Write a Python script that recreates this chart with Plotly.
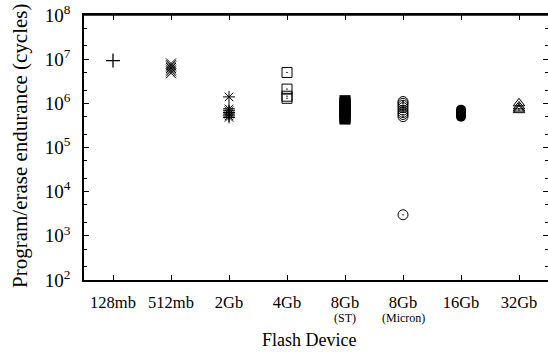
import plotly.graph_objects as go

categories = ["128mb", "512mb", "2Gb", "4Gb", "8Gb", "8Gb", "16Gb", "32Gb"]
sub_labels = ["", "", "", "", "(ST)", "(Micron)", "", ""]
cat_pos = [1, 2, 3, 4, 5, 6, 7, 8]

v_128mb = [9.3e6]
v_512mb = [8.0e6, 7.3e6, 6.8e6, 6.3e6, 5.8e6, 5.3e6, 4.8e6]
v_2gb = [1.4e6, 7.5e5, 6.8e5, 6.2e5, 5.7e5, 5.2e5, 4.8e5]
v_4gb = [5.0e6, 2.1e6, 1.45e6, 1.3e6]
v_8gb_st = [1.15e6, 1.05e6, 9.6e5, 8.7e5, 7.9e5, 7.1e5, 6.4e5, 5.8e5, 5.2e5, 4.7e5, 4.4e5]
v_8gb_micron = [1.1e6, 1.0e6, 9.0e5, 8.0e5, 7.0e5, 6.2e5, 5.6e5, 5.0e5, 3.0e3]
v_16gb = [7.2e5, 6.7e5, 6.2e5, 5.8e5, 5.4e5, 5.0e5]
v_32gb = [1.0e6, 8.5e5, 7.6e5, 7.0e5]

ytick_vals = [1e2, 1e3, 1e4, 1e5, 1e6, 1e7, 1e8]
ytick_text = ["10<sup>%d</sup>" % e for e in range(2, 9)]

series = [
    (v_128mb, "cross-thin-open", 10, 1.3),
    (v_512mb, "x-thin-open", 10, 1.0),
    (v_2gb, "asterisk-open", 10, 1.0),
    (v_4gb, "square-open-dot", 10, 1.0),
    (v_8gb_st, "square", 11, 0),
    (v_8gb_micron, "circle-open-dot", 10, 1.0),
    (v_16gb, "circle", 10, 0),
    (v_32gb, "triangle-up-open-dot", 10, 1.0),
]

W, H = 548, 354
L, R, T, B = 84, 0, 15, 74
pw, ph = W - L - R, H - T - B

def px_x(px):
    return (px - L) / pw

def px_y(py):
    return (H - B - py) / ph

fig = go.Figure()
for i, (vals, sym, sz, lw) in enumerate(series):
    fig.add_trace(go.Scatter(
        x=[cat_pos[i]] * len(vals), y=vals, mode="markers",
        marker=dict(symbol=sym, size=sz, color="black",
                    line=dict(color="black", width=lw)),
        showlegend=False, hoverinfo="skip", cliponaxis=False))

font = "Liberation Serif, Times New Roman, serif"

annotations = []
for pos, s in zip(cat_pos, sub_labels):
    if s:
        annotations.append(dict(x=pos, xref="x", y=px_y(318), yref="paper",
                                text=s, showarrow=False, font=dict(size=12),
                                xanchor="center", yanchor="middle"))
annotations.append(dict(x=px_x(20), xref="paper", y=px_y(146), yref="paper",
                        text="Program/erase endurance (cycles)", textangle=-90,
                        showarrow=False, font=dict(size=21),
                        xanchor="center", yanchor="middle"))
annotations.append(dict(x=px_x(309), xref="paper", y=px_y(340), yref="paper",
                        text="Flash Device", showarrow=False, font=dict(size=18),
                        xanchor="center", yanchor="middle"))

fig.add_shape(type="line", xref="paper", yref="paper", x0=0, x1=1, y0=1, y1=1,
              line=dict(color="black", width=1.5))

fig.update_layout(
    width=W, height=H, autosize=False,
    margin=dict(l=L, r=R, t=T, b=B, autoexpand=False),
    paper_bgcolor="white", plot_bgcolor="white",
    font=dict(family=font, size=16, color="black"),
    annotations=annotations,
    xaxis=dict(range=[0.5, 8.5], tickvals=cat_pos, ticktext=categories,
               ticks="inside", ticklen=5, tickcolor="black", mirror="ticks",
               showline=True, linecolor="black", linewidth=1.5,
               showgrid=False, zeroline=False, automargin=False,
               tickfont=dict(size=16.5), ticklabelstandoff=6),
    yaxis=dict(type="log", range=[2, 8], tickvals=ytick_vals, ticktext=ytick_text,
               ticks="inside", ticklen=5, tickcolor="black", mirror="ticks",
               showline=True, linecolor="black", linewidth=1.5,
               showgrid=False, zeroline=False, automargin=False,
               tickfont=dict(size=19), ticklabelstandoff=8,
               minor=dict(ticks="inside", ticklen=3, dtick="D2", tickcolor="black", showgrid=False)),
)

fig.write_html("out.html", config={"displayModeBar": False},
               post_script="document.body.style.margin='0px';")
